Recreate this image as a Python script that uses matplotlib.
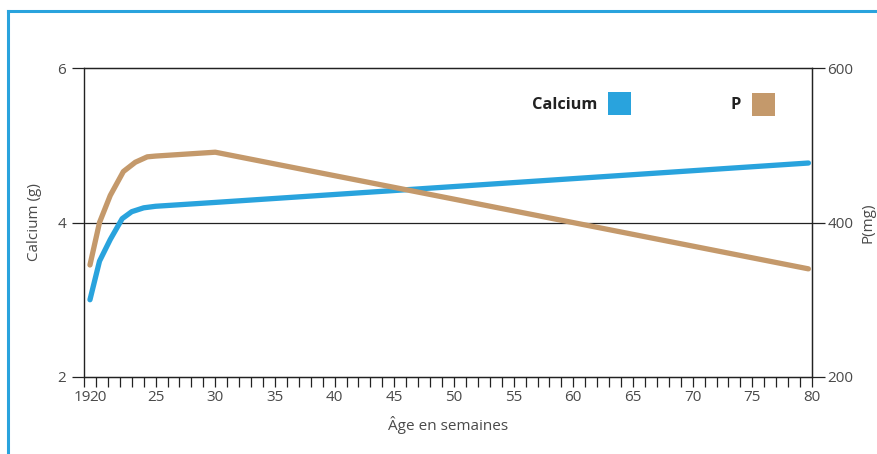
import numpy as np
import matplotlib
matplotlib.use("Agg")
import matplotlib.pyplot as plt
from matplotlib.lines import Line2D
from matplotlib.patches import Rectangle
from matplotlib.transforms import ScaledTranslation

plt.rcParams['font.family'] = ['Open Sans', 'DejaVu Sans']

# data
weeks_ca = [19.5, 20.3, 21.2, 22.2, 23.0, 24.0, 25.0, 30.0, 79.7]
calcium = [3.0, 3.5, 3.78, 4.05, 4.14, 4.19, 4.21, 4.26, 4.77]

weeks_p = [19.5, 20.3, 21.2, 22.3, 23.3, 24.3, 25.0, 30.0, 79.7]
phos = [345, 400, 435, 466, 478, 485, 486, 491, 340]

major_ticks = [19, 20, 25, 30, 35, 40, 45, 50, 55, 60, 65, 70, 75, 80]
ca_ticks = [2, 4, 6]
p_ticks = [200, 400, 600]

BLUE = '#29a3dd'
TAN = '#c4996b'
TXT = '#4a4a4a'

fig = plt.figure(figsize=(8.78, 4.54), dpi=100)
ax = fig.add_axes([84/878, 1 - 377/454, (812 - 84)/878, (377 - 68)/454])
ax2 = ax.twinx()

# blue frame around the figure
fig.add_artist(Line2D([8/878, 8/878], [0, 1 - 11/454], transform=fig.transFigure, color=BLUE, lw=2.2))
fig.add_artist(Line2D([8/878, 1], [1 - 11/454, 1 - 11/454], transform=fig.transFigure, color=BLUE, lw=2.2))

ax.set_xlim(19, 80)
ax.set_ylim(2, 6)
ax2.set_ylim(200, 600)

ax.axhline(4, color='#222222', lw=0.9, zorder=1)

ax.plot(weeks_ca, calcium, color=BLUE, lw=3.8, solid_capstyle='round', solid_joinstyle='round', zorder=3)
ax2.plot(weeks_p, phos, color=TAN, lw=3.8, solid_capstyle='round', solid_joinstyle='round', zorder=3)

ax.set_xticks(major_ticks)
ax.set_xticks(np.arange(19, 81), minor=True)
ax.tick_params(axis='x', which='both', direction='out', length=7.5, width=0.9,
               color='#222222', labelsize=11, labelcolor=TXT, pad=2)
ax.set_yticks(ca_ticks)
ax.tick_params(axis='y', direction='out', length=9, width=0.9, color='#222222',
               labelsize=11, labelcolor=TXT, pad=4)
ax2.set_yticks(p_ticks)
ax2.tick_params(axis='y', direction='out', length=9, width=0.9, color='#222222',
                labelsize=11, labelcolor=TXT, pad=2)

# "19" and "20" sit side by side, nudge them apart a little
xlabels = ax.get_xticklabels()
xlabels[0].set_transform(xlabels[0].get_transform() + ScaledTranslation(-0.018, 0, fig.dpi_scale_trans))
xlabels[1].set_transform(xlabels[1].get_transform() + ScaledTranslation(0.022, 0, fig.dpi_scale_trans))

for a in (ax, ax2):
    for s in a.spines.values():
        s.set_color('#222222')
        s.set_linewidth(0.9)
ax.spines['left'].set_color('#777777')

ax.set_xlabel('Âge en semaines', fontsize=11, color=TXT, labelpad=8)
ax.set_ylabel('Calcium (g)', fontsize=11, color=TXT, labelpad=11)
ax2.set_ylabel('P(mg)', fontsize=11, color=TXT, labelpad=5)

# legend: bold label then coloured square
ax.text(0.7047, 0.880, 'Calcium', transform=ax.transAxes, fontsize=11.8, fontweight='bold',
        color='#222222', ha='right', va='center')
ax.add_patch(Rectangle((0.7198, 0.848), 0.0316, 0.0744, transform=ax.transAxes,
                       facecolor=BLUE, edgecolor='none', clip_on=False))
ax.text(0.9025, 0.880, 'P', transform=ax.transAxes, fontsize=11.8, fontweight='bold',
        color='#222222', ha='right', va='center')
ax.add_patch(Rectangle((0.9176, 0.845), 0.0316, 0.0744, transform=ax.transAxes,
                       facecolor=TAN, edgecolor='none', clip_on=False))

fig.savefig('out.png', dpi=100)
